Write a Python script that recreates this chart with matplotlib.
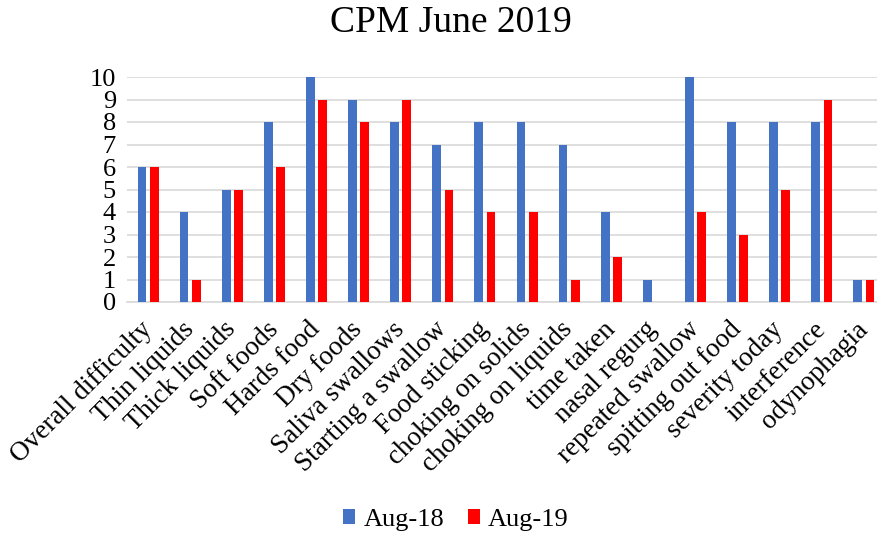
import matplotlib
matplotlib.use("Agg")
import matplotlib.pyplot as plt
import numpy as np

categories = ["Overall difficulty", "Thin liquids", "Thick liquids", "Soft foods",
              "Hards food", "Dry foods", "Saliva swallows", "Starting a swallow",
              "Food sticking", "choking on solids", "choking on liquids", "time taken",
              "nasal regurg", "repeated swallow", "spitting out food", "severity today",
              "interference", "odynophagia"]
aug18 = [6, 4, 5, 8, 10, 9, 8, 7, 8, 8, 7, 4, 1, 10, 8, 8, 8, 1]
aug19 = [6, 1, 5, 6, 9, 8, 9, 5, 4, 4, 1, 2, 0, 4, 3, 5, 9, 1]
yticks = list(range(0, 11))

plt.rcParams['font.family'] = ['Liberation Serif', 'DejaVu Serif']

fig = plt.figure(figsize=(8.78, 5.36), dpi=100)
ax = fig.add_axes([127/878, 1-302/536, (885-127)/878, (302-77)/536])

x = np.arange(len(categories))
w = 0.21
off = 0.145
ax.bar(x - off, aug18, width=w, color='#4472C4', label='Aug-18', zorder=3)
ax.bar(x + off, aug19, width=w, color='#FF0000', label='Aug-19', zorder=3)

ax.set_xlim(-0.5, len(categories) - 0.5)
ax.set_ylim(0, 10)
ax.set_yticks(yticks)
ax.set_yticklabels([str(t) for t in yticks], fontsize=19)
ax.yaxis.grid(True, color='#d9d9d9', linewidth=1.2, zorder=0)
ax.set_axisbelow(True)
for s in ['top', 'right', 'left']:
    ax.spines[s].set_visible(False)
ax.spines['bottom'].set_color('#d9d9d9')
ax.spines['bottom'].set_linewidth(1.2)
ax.tick_params(axis='both', length=0)
ax.tick_params(axis='y', pad=8)
ax.set_xticks(x)
ax.set_xticklabels(categories, rotation=45, ha='right', va='center',
                   rotation_mode='anchor', fontsize=19.5)
ax.tick_params(axis='x', pad=17)

fig.text(451/878, 1-23/536, 'CPM June 2019', ha='center', va='center', fontsize=27)
fig.legend(loc='center', bbox_to_anchor=(456/878, 1-520/536), ncol=2, frameon=False,
           fontsize=19, handlelength=0.46, handleheight=0.46, columnspacing=0.9,
           handletextpad=0.3)

fig.savefig('out.png', dpi=100)
